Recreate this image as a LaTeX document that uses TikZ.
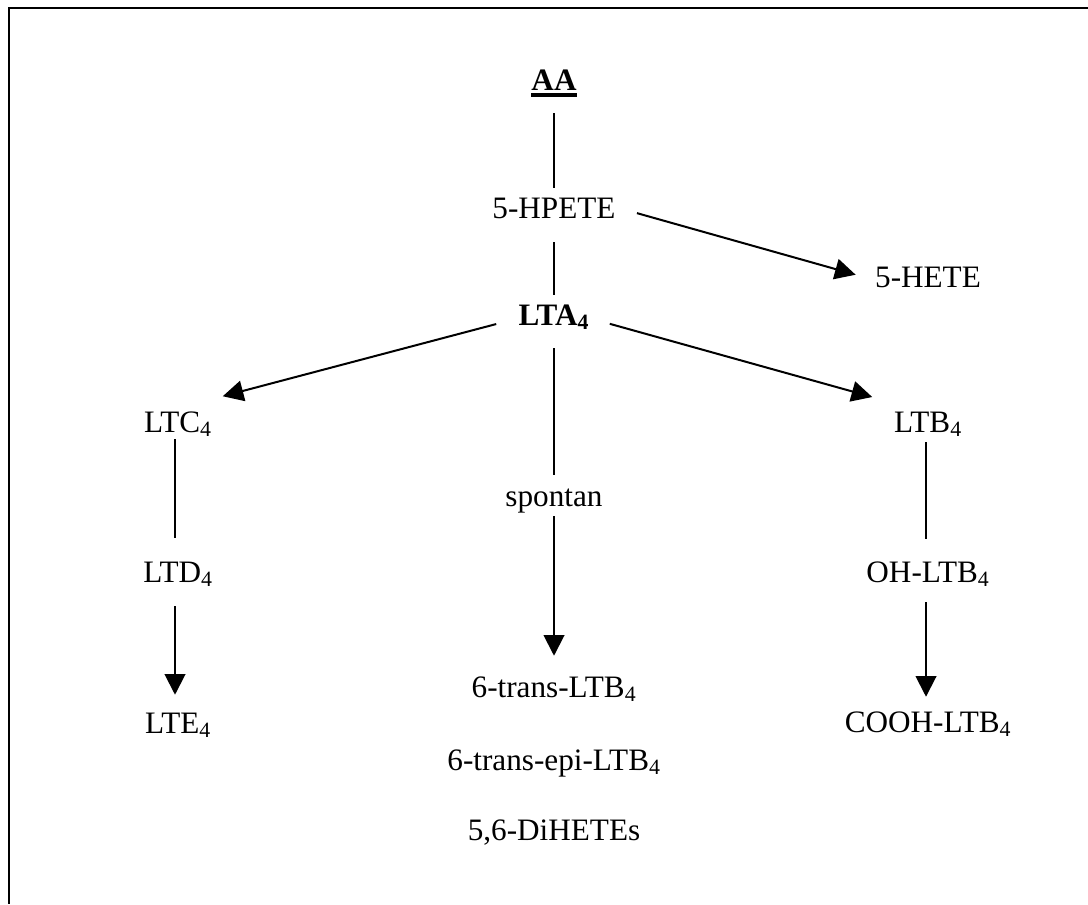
\documentclass[tikz,border=0pt]{standalone}
\usepackage{fontspec}
\setmainfont{Liberation Serif}
\usetikzlibrary{arrows.meta}

% bold heavy underline for the starting substrate
\newcommand{\heavyul}[1]{\setbox0=\hbox{#1}\rlap{\rule[-5.25pt]{\wd0}{3pt}}\box0}
\newcommand{\chemfont}{\fontsize{23.4}{28}\selectfont}

\begin{document}
\begin{tikzpicture}[x=0.75pt, y=-0.75pt,
  lbl/.style={anchor=base, inner sep=0pt, text height=15.5pt, text depth=5.25pt, font=\chemfont},
  link/.style={line width=1.5pt},
  flow/.style={link, -{Triangle[length=15.5pt,width=15.5pt]}}]

\useasboundingbox (0,0) rectangle (1088,904);

% page frame (top and left edges)
\draw[line width=1.5pt] (1088,8) -- (9,8) -- (9,904);

% metabolites
\node[lbl] (aa)     at (554,90)  {\textbf{\heavyul{AA}}};
\node[lbl] (hpete)  at (554,218) {5-HPETE};
\node[lbl] (hete)   at (928,287) {5-HETE};
\node[lbl] (lta)    at (554,325) {\textbf{LTA\textsubscript{4}}};
\node[lbl] (ltc)    at (178,432) {LTC\textsubscript{4}};
\node[lbl] (ltb)    at (928,432) {LTB\textsubscript{4}};
\node[lbl] (spont)  at (554,506) {spontan};
\node[lbl] (ltd)    at (178,582) {LTD\textsubscript{4}};
\node[lbl] (ohltb)  at (928,582) {OH-LTB\textsubscript{4}};
\node[lbl] (trans)  at (554,697) {6-trans-LTB\textsubscript{4}};
\node[lbl] (lte)    at (178,733) {LTE\textsubscript{4}};
\node[lbl] (cooh)   at (928,732) {COOH-LTB\textsubscript{4}};
\node[lbl] (epi)    at (554,770) {6-trans-epi-LTB\textsubscript{4}};
\node[lbl] (dihete) at (554,840) {5,6-DiHETEs};

% main trunk
\draw[link, shorten <=12pt, shorten >=7pt] (aa.south) -- (hpete.north);
\draw[link, shorten <=12.75pt, shorten >=7pt] (hpete.south) -- (lta.north);
\draw[link, shorten <=12pt, shorten >=7.75pt] (lta.south) -- (spont.north);
\draw[flow, shorten <=2.25pt, shorten >=15.25pt] (spont.south) -- (trans.north);

% side branches
\draw[flow, shorten <=16.5pt, shorten >=15pt] ([yshift=3pt]hpete.east) -- (hete.west);
\draw[flow, shorten <=17.25pt, shorten >=8.25pt] (lta.west) -- ([yshift=9pt]ltc.north east);
\draw[flow, shorten <=15.75pt, shorten >=16.9pt] (lta.east) -- ([yshift=6pt]ltb.north west);

% cysteinyl leukotrienes
\draw[link, shorten >=17.5pt] ([xshift=-2.25pt]ltc.south) -- ([xshift=-2.25pt]ltd.north);
\draw[flow, shorten <=12.75pt, shorten >=13pt] ([xshift=-2.25pt]ltd.south) -- ([xshift=-2.25pt]lte.north);

% LTB4 oxidation
\draw[link, shorten <=2.25pt, shorten >=16.75pt] ([xshift=-1.5pt]ltb.south) -- ([xshift=-1.5pt]ohltb.north);
\draw[flow, shorten <=9.75pt, shorten >=10.75pt] ([xshift=-1.5pt]ohltb.south) -- ([xshift=-1.5pt]cooh.north);

\end{tikzpicture}
\end{document}
